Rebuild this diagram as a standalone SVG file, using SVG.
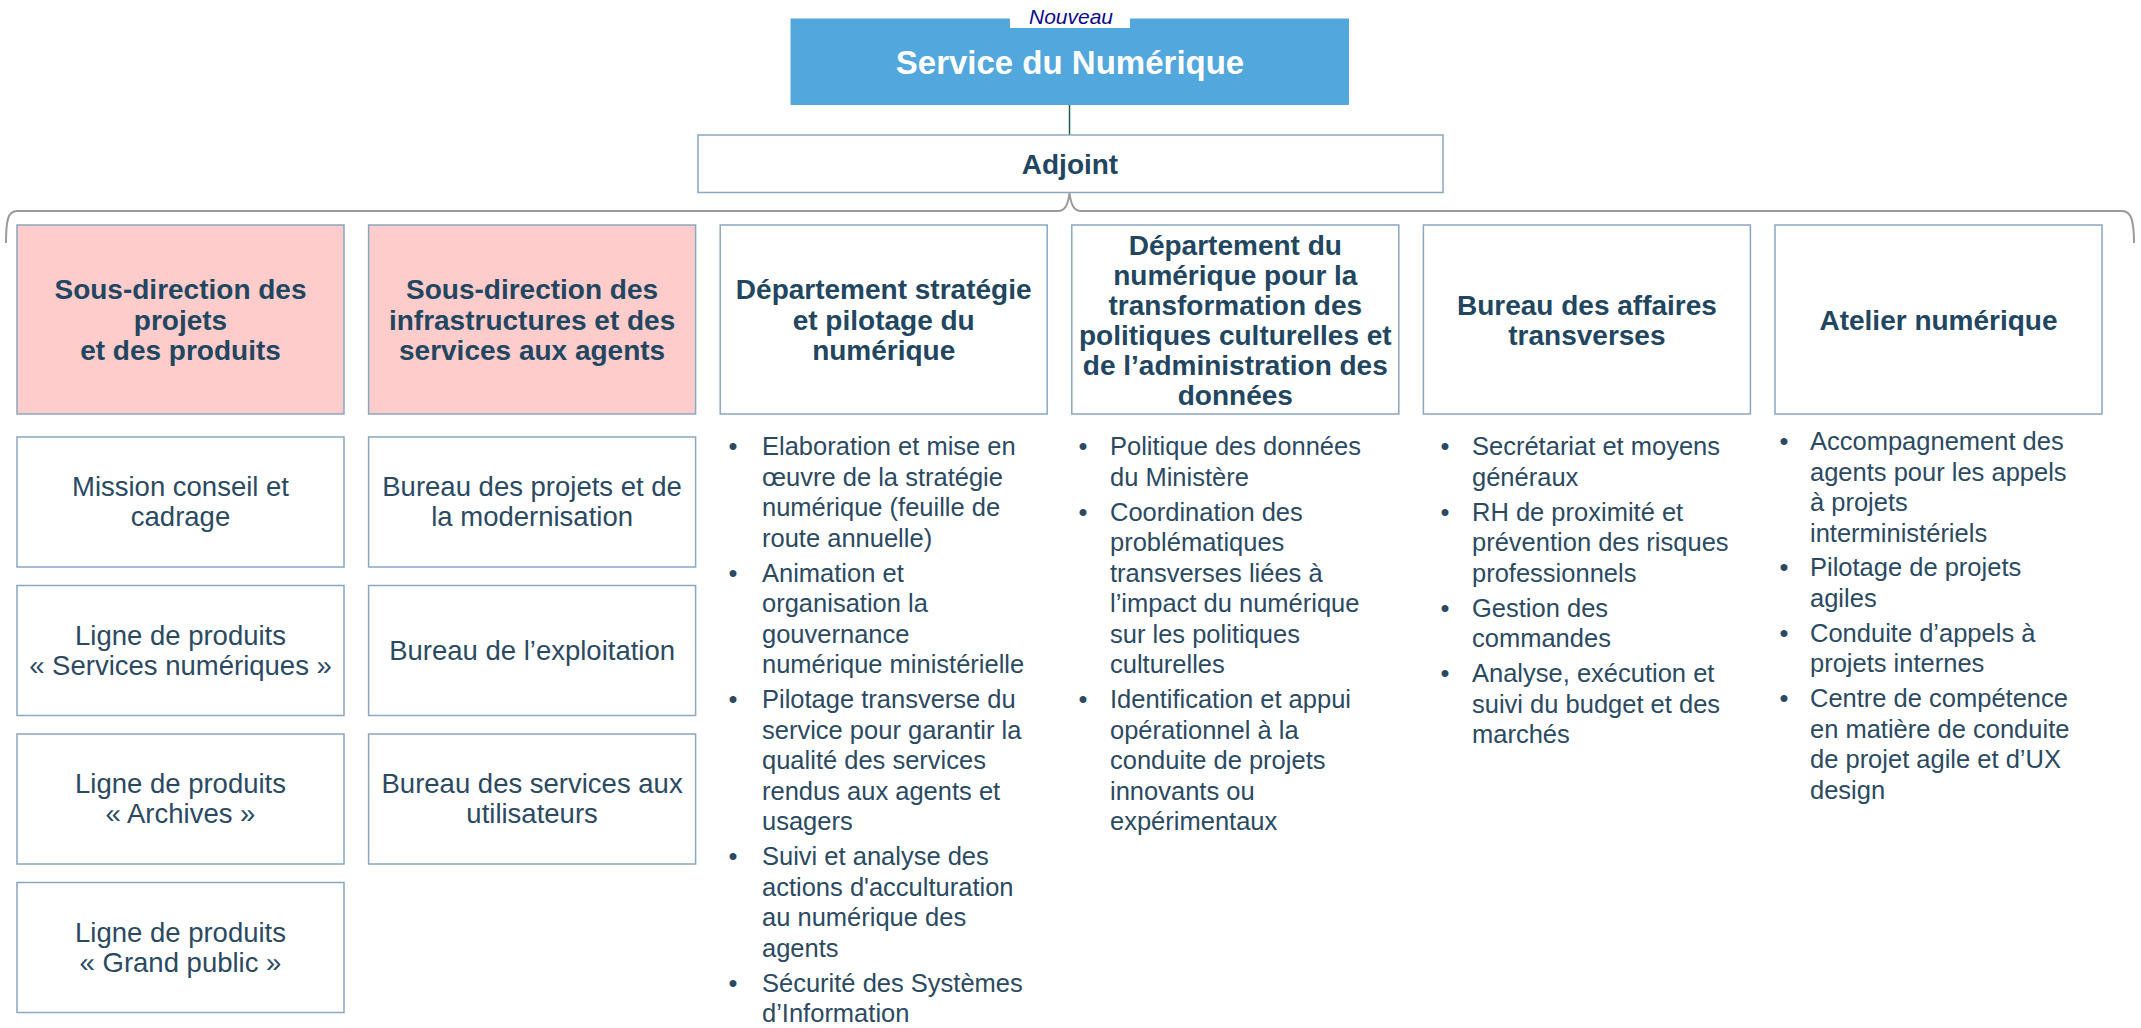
<svg xmlns="http://www.w3.org/2000/svg" width="2141" height="1028" viewBox="0 0 2141 1028">
<style>
  text { font-family: "Liberation Sans", Arial, Helvetica, sans-serif; }
  .box { fill: #ffffff; stroke: #8aa7be; stroke-width: 1.5; }
  .pink { fill: #ffcccc; stroke: #8aa7be; stroke-width: 1.5; }
  .hd { font-size: 28px; font-weight: bold; fill: #22465f; text-anchor: middle; }
  .sb { font-size: 27.5px; fill: #2b4a62; text-anchor: middle; }
  .bl { font-size: 25.5px; fill: #2b4a62; }
  .dot { font-size: 25.5px; fill: #2b4a62; text-anchor: middle; }
</style>
<rect x="0" y="0" width="2141" height="1028" fill="#ffffff"/>

<g id="connectors">
  <line x1="1069.5" y1="105" x2="1069.5" y2="135" stroke="#1f5c4a" stroke-width="1.5"/>
  <path d="M 6 243 C 6 220 8 211 17 211 L 1058 211 C 1065 211 1068 205 1069.5 193 C 1071 205 1074 211 1081 211 L 2122 211 C 2131 211 2134 220 2134 243" fill="none" stroke="#9a9a9a" stroke-width="2"/>
</g>

<g id="service">
  <rect x="790.5" y="18.5" width="558.5" height="86.5" fill="#52a7dd"/>
  <rect x="1010" y="0" width="120" height="28" fill="#ffffff"/>
  <text x="1071" y="23.5" style="font-size:21px;font-style:italic;fill:#0b0b8a;text-anchor:middle">Nouveau</text>
  <text x="1070" y="73.5" style="font-size:33px;font-weight:bold;fill:#ffffff;text-anchor:middle">Service du Numérique</text>
</g>

<g id="adjoint">
  <rect class="box" x="698" y="135" width="745" height="57.5"/>
  <text class="hd" x="1070" y="174">Adjoint</text>
</g>

<g id="sd-projets">
  <rect class="pink" x="17" y="225" width="327" height="189"/>
  <text class="hd" x="180.5" y="299">Sous-direction des</text>
  <text class="hd" x="180.5" y="329.5">projets</text>
  <text class="hd" x="180.5" y="360">et des produits</text>
</g>
<g id="sd-infra">
  <rect class="pink" x="368.6" y="225" width="327" height="189"/>
  <text class="hd" x="532.1" y="299">Sous-direction des</text>
  <text class="hd" x="532.1" y="329.5">infrastructures et des</text>
  <text class="hd" x="532.1" y="360">services aux agents</text>
</g>
<g id="dep-strategie">
  <rect class="box" x="720.2" y="225" width="327" height="189"/>
  <text class="hd" x="883.7" y="299">Département stratégie</text>
  <text class="hd" x="883.7" y="329.5">et pilotage du</text>
  <text class="hd" x="883.7" y="360">numérique</text>
</g>
<g id="dep-transfo">
  <rect class="box" x="1071.8" y="225" width="327" height="189"/>
  <text class="hd" x="1235.3" y="254.5">Département du</text>
  <text class="hd" x="1235.3" y="284.5">numérique pour la</text>
  <text class="hd" x="1235.3" y="314.5">transformation des</text>
  <text class="hd" x="1235.3" y="344.5">politiques culturelles et</text>
  <text class="hd" x="1235.3" y="374.5">de l’administration des</text>
  <text class="hd" x="1235.3" y="404.5">données</text>
</g>
<g id="bureau-affaires">
  <rect class="box" x="1423.4" y="225" width="327" height="189"/>
  <text class="hd" x="1586.9" y="314.5">Bureau des affaires</text>
  <text class="hd" x="1586.9" y="344.5">transverses</text>
</g>
<g id="atelier">
  <rect class="box" x="1775" y="225" width="327" height="189"/>
  <text class="hd" x="1938.5" y="329.5">Atelier numérique</text>
</g>

<g id="mission-conseil">
  <rect class="box" x="17" y="437" width="327" height="130"/>
  <text class="sb" x="180.5" y="496">Mission conseil et</text>
  <text class="sb" x="180.5" y="526">cadrage</text>
</g>
<g id="ligne-services">
  <rect class="box" x="17" y="585.5" width="327" height="130"/>
  <text class="sb" x="180.5" y="644.5">Ligne de produits</text>
  <text class="sb" x="180.5" y="674.5">« Services numériques »</text>
</g>
<g id="ligne-archives">
  <rect class="box" x="17" y="734" width="327" height="130"/>
  <text class="sb" x="180.5" y="793">Ligne de produits</text>
  <text class="sb" x="180.5" y="823">« Archives »</text>
</g>
<g id="ligne-grand-public">
  <rect class="box" x="17" y="882.5" width="327" height="130"/>
  <text class="sb" x="180.5" y="941.5">Ligne de produits</text>
  <text class="sb" x="180.5" y="971.5">« Grand public »</text>
</g>
<g id="bureau-projets">
  <rect class="box" x="368.6" y="437" width="327" height="130"/>
  <text class="sb" x="532.1" y="496">Bureau des projets et de</text>
  <text class="sb" x="532.1" y="526">la modernisation</text>
</g>
<g id="bureau-exploitation">
  <rect class="box" x="368.6" y="585.5" width="327" height="130"/>
  <text class="sb" x="532.1" y="660">Bureau de l’exploitation</text>
</g>
<g id="bureau-services">
  <rect class="box" x="368.6" y="734" width="327" height="130"/>
  <text class="sb" x="532.1" y="793">Bureau des services aux</text>
  <text class="sb" x="532.1" y="823">utilisateurs</text>
</g>

<g id="liste-strategie">
  <text class="dot" x="733" y="455">•</text>
  <text class="bl" x="762" y="455">Elaboration et mise en</text>
  <text class="bl" x="762" y="485.5">œuvre de la stratégie</text>
  <text class="bl" x="762" y="516">numérique (feuille de</text>
  <text class="bl" x="762" y="546.5">route annuelle)</text>
  <text class="dot" x="733" y="581.5">•</text>
  <text class="bl" x="762" y="581.5">Animation et</text>
  <text class="bl" x="762" y="612">organisation la</text>
  <text class="bl" x="762" y="642.5">gouvernance</text>
  <text class="bl" x="762" y="673">numérique ministérielle</text>
  <text class="dot" x="733" y="708">•</text>
  <text class="bl" x="762" y="708">Pilotage transverse du</text>
  <text class="bl" x="762" y="738.5">service pour garantir la</text>
  <text class="bl" x="762" y="769">qualité des services</text>
  <text class="bl" x="762" y="799.5">rendus aux agents et</text>
  <text class="bl" x="762" y="830">usagers</text>
  <text class="dot" x="733" y="865">•</text>
  <text class="bl" x="762" y="865">Suivi et analyse des</text>
  <text class="bl" x="762" y="895.5">actions d'acculturation</text>
  <text class="bl" x="762" y="926">au numérique des</text>
  <text class="bl" x="762" y="956.5">agents</text>
  <text class="dot" x="733" y="991.5">•</text>
  <text class="bl" x="762" y="991.5">Sécurité des Systèmes</text>
  <text class="bl" x="762" y="1022">d’Information</text>
</g>

<g id="liste-transfo">
  <text class="dot" x="1083" y="455">•</text>
  <text class="bl" x="1110" y="455">Politique des données</text>
  <text class="bl" x="1110" y="485.5">du Ministère</text>
  <text class="dot" x="1083" y="520.5">•</text>
  <text class="bl" x="1110" y="520.5">Coordination des</text>
  <text class="bl" x="1110" y="551">problématiques</text>
  <text class="bl" x="1110" y="581.5">transverses liées à</text>
  <text class="bl" x="1110" y="612">l’impact du numérique</text>
  <text class="bl" x="1110" y="642.5">sur les politiques</text>
  <text class="bl" x="1110" y="673">culturelles</text>
  <text class="dot" x="1083" y="708">•</text>
  <text class="bl" x="1110" y="708">Identification et appui</text>
  <text class="bl" x="1110" y="738.5">opérationnel à la</text>
  <text class="bl" x="1110" y="769">conduite de projets</text>
  <text class="bl" x="1110" y="799.5">innovants ou</text>
  <text class="bl" x="1110" y="830">expérimentaux</text>
</g>

<g id="liste-affaires">
  <text class="dot" x="1445" y="455">•</text>
  <text class="bl" x="1472" y="455">Secrétariat et moyens</text>
  <text class="bl" x="1472" y="485.5">généraux</text>
  <text class="dot" x="1445" y="520.5">•</text>
  <text class="bl" x="1472" y="520.5">RH de proximité et</text>
  <text class="bl" x="1472" y="551">prévention des risques</text>
  <text class="bl" x="1472" y="581.5">professionnels</text>
  <text class="dot" x="1445" y="616.5">•</text>
  <text class="bl" x="1472" y="616.5">Gestion des</text>
  <text class="bl" x="1472" y="647">commandes</text>
  <text class="dot" x="1445" y="682">•</text>
  <text class="bl" x="1472" y="682">Analyse, exécution et</text>
  <text class="bl" x="1472" y="712.5">suivi du budget et des</text>
  <text class="bl" x="1472" y="743">marchés</text>
</g>

<g id="liste-atelier">
  <text class="dot" x="1784" y="450">•</text>
  <text class="bl" x="1810" y="450">Accompagnement des</text>
  <text class="bl" x="1810" y="480.5">agents pour les appels</text>
  <text class="bl" x="1810" y="511">à projets</text>
  <text class="bl" x="1810" y="541.5">interministériels</text>
  <text class="dot" x="1784" y="576">•</text>
  <text class="bl" x="1810" y="576">Pilotage de projets</text>
  <text class="bl" x="1810" y="606.5">agiles</text>
  <text class="dot" x="1784" y="641.5">•</text>
  <text class="bl" x="1810" y="641.5">Conduite d’appels à</text>
  <text class="bl" x="1810" y="672">projets internes</text>
  <text class="dot" x="1784" y="707">•</text>
  <text class="bl" x="1810" y="707">Centre de compétence</text>
  <text class="bl" x="1810" y="737.5">en matière de conduite</text>
  <text class="bl" x="1810" y="768">de projet agile et d’UX</text>
  <text class="bl" x="1810" y="798.5">design</text>
</g>
</svg>
